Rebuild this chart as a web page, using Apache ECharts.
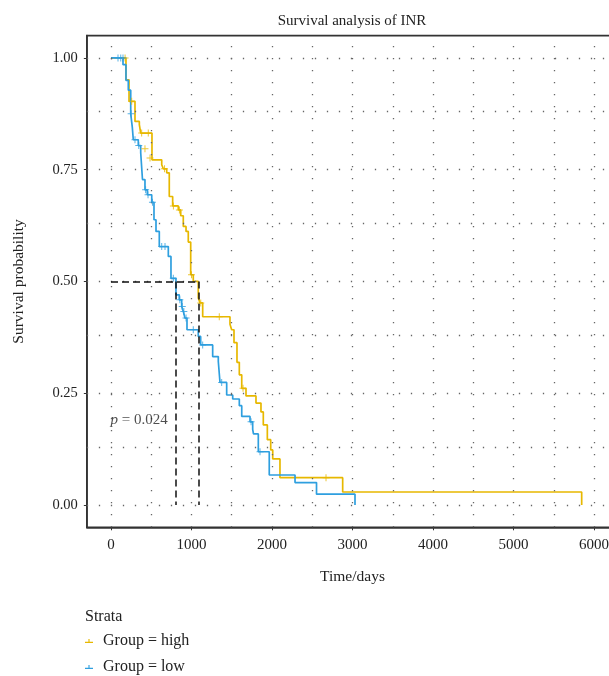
<!DOCTYPE html>
<html>
<head>
<meta charset="utf-8">
<script src="https://cdn.jsdelivr.net/npm/echarts@6/dist/echarts.min.js"></script>
<style>
  html, body { margin: 0; padding: 0; background: #fff; }
  #main { width: 609px; height: 676px; }
</style>
</head>
<body>
<div id="main"></div>
<script>
// tick labels and dotted grid positions
var xTicks = [0, 1000, 2000, 3000, 4000, 5000, 6000];
var yTicks = [0, 0.25, 0.5, 0.75, 1];
var xGrid = [0, 500, 1000, 1500, 2000, 2500, 3000, 3500, 4000, 4500, 5000, 5500, 6000];
var yGrid = [0, 0.125, 0.25, 0.375, 0.5, 0.625, 0.75, 0.875, 1];

// Kaplan-Meier steps: [time, survival after the step]
var highSteps = [[0, 1], [186, 0.951], [224, 0.903], [298, 0.858], [352, 0.851], [369, 0.832],
    [509, 0.772], [630, 0.761], [650, 0.752], [692, 0.743], [724, 0.690], [766, 0.669],
    [836, 0.660], [866, 0.647], [898, 0.623], [932, 0.612], [960, 0.588], [990, 0.515],
    [1022, 0.500], [1084, 0.463], [1106, 0.452], [1139, 0.421], [1478, 0.404], [1499, 0.392],
    [1528, 0.363], [1565, 0.319], [1594, 0.291], [1624, 0.261], [1677, 0.244], [1801, 0.228],
    [1863, 0.208], [1892, 0.179], [1942, 0.146], [1984, 0.123], [2009, 0.103], [2099, 0.061],
    [2878, 0.029], [5847, 0]];
var lowSteps = [[0, 1], [149, 0.985], [186, 0.950], [215, 0.928], [245, 0.875], [265, 0.844],
    [277, 0.817], [339, 0.804], [369, 0.788], [391, 0.728], [422, 0.705], [451, 0.694],
    [506, 0.677], [534, 0.638], [559, 0.612], [600, 0.578], [712, 0.556], [745, 0.507],
    [807, 0.470], [848, 0.459], [878, 0.444], [898, 0.433], [919, 0.418], [944, 0.392],
    [1084, 0.377], [1114, 0.358], [1263, 0.332], [1333, 0.321], [1354, 0.274], [1437, 0.246],
    [1512, 0.237], [1594, 0.222], [1624, 0.198], [1727, 0.186], [1760, 0.169], [1770, 0.159],
    [1830, 0.119], [1966, 0.067], [2286, 0.050], [2553, 0.024], [3031, 0]];

// censor marks
var highCensor = [[175, 1], [257, 0.903], [381, 0.832], [463, 0.832], [422, 0.797], [485, 0.776],
    [665, 0.752], [775, 0.669], [850, 0.660], [1000, 0.515], [1115, 0.452], [1345, 0.421],
    [1640, 0.261], [2671, 0.061]];
var lowCensor = [[87, 1], [121, 1], [149, 1], [250, 0.875], [298, 0.817], [345, 0.804],
    [430, 0.705], [460, 0.694], [515, 0.677], [630, 0.578], [671, 0.578], [774, 0.507],
    [855, 0.459], [885, 0.444], [905, 0.433], [932, 0.418], [1022, 0.392], [1139, 0.358],
    [1375, 0.274], [1740, 0.186], [1851, 0.119]];

// median survival times (low, high)
var medianTimes = [807, 1084];
var pLabel = [350, 0.19];

var HIGH = '#E7B800', LOW = '#2E9FDF';
var FONT = 'Liberation Serif';
var plus = 'path://M4.3,0h1.4v10h-1.4z M0,4.3h10v1.4h-10z';
var legendIcon = 'path://M0,6h10v1.4h-10z M4.3,2.5h1.4v4h-1.4z';

var myChart = echarts.init(document.getElementById('main'));

var gridLines = xGrid.map(function (v) { return { xAxis: v }; })
    .concat(yGrid.map(function (v) { return { yAxis: v }; }));

var medianLines = [
    [{ coord: [0, 0.5] }, { coord: [medianTimes[1], 0.5] }],
    [{ coord: [medianTimes[0], 0.5] }, { coord: [medianTimes[0], 0] }],
    [{ coord: [medianTimes[1], 0.5] }, { coord: [medianTimes[1], 0] }]
];

function legendAt(name, top) {
    return {
        data: [name],
        left: 80, top: top,
        itemWidth: 8, itemHeight: 8,
        icon: legendIcon,
        textStyle: { fontFamily: FONT, fontSize: 16, color: '#222', padding: [0, 0, 0, 5] }
    };
}

var option = {
    animation: false,
    textStyle: { fontFamily: FONT },
    title: [
        {
            text: 'Survival analysis of INR',
            left: 347, top: 9, textAlign: 'center',
            textStyle: { fontFamily: FONT, fontSize: 15, fontWeight: 'normal', color: '#222' }
        },
        {
            text: 'Strata',
            left: 80, top: 604,
            textStyle: { fontFamily: FONT, fontSize: 16, fontWeight: 'normal', color: '#222' }
        }
    ],
    legend: [legendAt('Group = high', 628), legendAt('Group = low', 654)],
    grid: {
        left: 86.85, top: 35.6, width: 531.3, height: 491.7,
        show: true, borderColor: '#333', borderWidth: 1.6,
        outerBoundsMode: 'none'
    },
    xAxis: {
        type: 'value', min: -300, max: 6300,
        name: 'Time/days', nameLocation: 'middle', nameGap: 42,
        nameTextStyle: { fontFamily: FONT, fontSize: 15.5, color: '#222' },
        axisLine: { show: true, onZero: false, lineStyle: { color: '#333', width: 1.6 } },
        axisTick: { show: true, length: 3, customValues: xTicks, lineStyle: { color: '#333' } },
        axisLabel: {
            customValues: xTicks, margin: 10, fontFamily: FONT, fontSize: 15, color: '#222',
            formatter: function (v) { return String(v); }
        },
        splitLine: { show: false }
    },
    yAxis: {
        type: 'value', min: -0.05, max: 1.05,
        name: 'Survival probability', nameLocation: 'middle', nameGap: 60,
        nameTextStyle: { fontFamily: FONT, fontSize: 15.5, color: '#222' },
        axisLine: { show: true, onZero: false, lineStyle: { color: '#333', width: 1.6 } },
        axisTick: { show: true, length: 3, customValues: yTicks, lineStyle: { color: '#333' } },
        axisLabel: {
            customValues: yTicks, margin: 9, fontFamily: FONT, fontSize: 14.5, color: '#222',
            formatter: function (v) { return v.toFixed(2); }
        },
        splitLine: { show: false }
    },
    series: [
        {
            name: 'grid',
            type: 'scatter',
            data: [],
            silent: true,
            z: 1,
            markLine: {
                silent: true,
                symbol: ['none', 'none'],
                label: { show: false },
                lineStyle: { color: '#666', width: 1.3, type: [1.3, 10.7] },
                data: gridLines
            }
        },
        {
            name: 'Group = high',
            type: 'line',
            step: 'end',
            showSymbol: false,
            z: 3,
            lineStyle: { color: HIGH, width: 1.7 },
            itemStyle: { color: HIGH },
            data: highSteps
        },
        {
            name: 'Group = low',
            type: 'line',
            step: 'end',
            showSymbol: false,
            z: 4,
            lineStyle: { color: LOW, width: 1.7 },
            itemStyle: { color: LOW },
            data: lowSteps
        },
        {
            name: 'high censor',
            type: 'scatter',
            symbol: plus,
            symbolSize: 7,
            z: 5,
            itemStyle: { color: HIGH },
            data: highCensor
        },
        {
            name: 'low censor',
            type: 'scatter',
            symbol: plus,
            symbolSize: 7,
            z: 5,
            itemStyle: { color: LOW },
            data: lowCensor
        },
        {
            name: 'median',
            type: 'scatter',
            data: [],
            z: 6,
            markLine: {
                silent: true,
                symbol: ['none', 'none'],
                label: { show: false },
                lineStyle: { color: '#111', width: 1.5, type: [7, 4] },
                data: medianLines
            }
        },
        {
            name: 'pvalue',
            type: 'scatter',
            symbolSize: 0,
            z: 6,
            label: {
                show: true,
                position: 'inside',
                formatter: '{i|p} = 0.024',
                fontFamily: FONT, fontSize: 15, color: '#222',
                rich: { i: { fontFamily: FONT, fontSize: 15, fontStyle: 'italic', color: '#222' } }
            },
            data: [pLabel]
        }
    ]
};

myChart.setOption(option);
</script>
</body>
</html>
